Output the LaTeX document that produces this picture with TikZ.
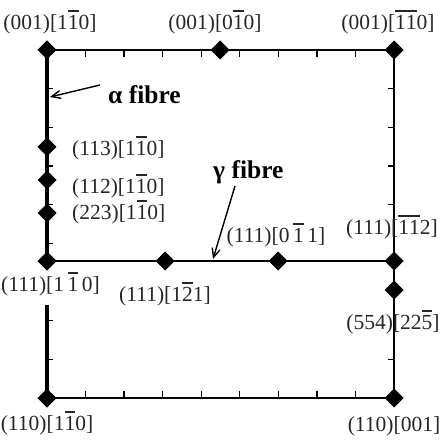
\documentclass[tikz,border=0pt]{standalone}
\usepackage{fontspec}
\setmainfont{Liberation Serif}
\usetikzlibrary{arrows.meta}
\newcommand\ob[1]{{\setbox0\hbox{#1}\rlap{\rule[0.8em]{\wd0}{0.065em}}\box0}}
\begin{document}
\begin{tikzpicture}[x=1bp,y=-1bp,
  dia/.style={inner sep=0pt,minimum size=0pt},
  lab/.style={inner sep=0pt,font=\fontsize{21.5bp}{24bp}\selectfont,text=black!85},
  fib/.style={inner sep=0pt,font=\fontsize{25.5bp}{28bp}\selectfont\bfseries},
  thinax/.style={line width=1.3bp},
  thickax/.style={line width=3.6bp},
  midax/.style={line width=2.1bp},
  tick/.style={line width=1.3bp},
  arr/.style={line width=1.4bp,-{Straight Barb[length=9bp,width=8bp]}}]
\useasboundingbox (0,0) rectangle (444,442);
\coordinate (gapB) at (47,305);
% diamond positions
\node[dia] (tl) at (47,50) {};
\node[dia] (tm) at (220,50) {};
\node[dia] (tr) at (394,50) {};
\node[dia] (d113) at (47,147) {};
\node[dia] (d112) at (47,180) {};
\node[dia] (d223) at (47,213) {};
\node[dia] (ml) at (47,261) {};
\node[dia] (m121) at (165,261) {};
\node[dia] (m011) at (278,261) {};
\node[dia] (mr) at (394,261) {};
\node[dia] (r554) at (394,290) {};
\node[dia] (br) at (394,398) {};
\node[dia] (bl) at (47,398) {};
% lines
\draw[thinax] (tl.center) -- (tr.center);
\draw[thinax] (bl.center) -- (br.center);
\draw[thickax] (tl.center) -- (ml.center);
\draw[thickax] (gapB) -- (bl.center);
\draw[midax] (ml.center) -- (mr.center);
\draw[midax] (tr.center) -- (br.center);
% ticks
\foreach \k in {1,...,8} {
  \draw[tick] (47+\k*38.56,50) -- ++(0,7);
  \draw[tick] (47+\k*38.56,398) -- ++(0,-7);
}
\foreach \k in {1,...,5} {
  \draw[tick] (47,50+\k*38.7) -- ++(6,0);
}
\foreach \k in {1,...,4} {
  \draw[tick] (394,50+\k*38.7) -- ++(-6,0);
}
\draw[tick] (47,398-38.7) -- ++(6,0);
\draw[tick] (47,398-77.4) -- ++(6,0);
\draw[tick] (394,398-38.7) -- ++(-6,0);
% diamond markers
\foreach \n in {tl,tm,tr,d113,d112,d223,ml,m121,m011,mr,r554,br,bl}
  \fill (\n.center) ++(-9.5,0) -- ++(9.5,-9.5) -- ++(9.5,9.5) -- ++(-9.5,9.5) -- cycle;
% labels
\node[lab] (L1) at (50,22) {(001)[1\ob{1}0]};
\node[lab] (L2) at (215,22) {(001)[0\ob{1}0]};
\node[lab] (L3) at (388,22) {(001)[\ob{1}\ob{1}0]};
\node[lab,anchor=west] (L4) at (72,148) {(113)[1\ob{1}0]};
\node[lab,anchor=west] (L5) at (72,186) {(112)[1\ob{1}0]};
\node[lab,anchor=west] (L6) at (72,212) {(223)[1\ob{1}0]};
\node[lab,anchor=west] (L7) at (1,284) {(111)[1\,\ob{1}\,0]};
\node[lab] (L8) at (165,294) {(111)[1\ob{2}1]};
\node[lab] (L9) at (276,235) {(111)[0\,\ob{1}\,1]};
\node[lab] (L10) at (392,227) {(111)[\ob{1}\ob{1}2]};
\node[lab] (L11) at (393,322) {(554)[22\ob{5}]};
\node[lab] (L12) at (47,423) {(110)[1\ob{1}0]};
\node[lab] (L13) at (394,426) {(110)[001]};
% fibre labels
\node[fib,anchor=west] (alpha) at (108,95) {α fibre};
\node[fib,anchor=west] (gamma) at (213,172) {γ fibre};
\coordinate (alphatail) at (100,85);
\coordinate (alphatip) at (50,97);
\coordinate (gammatail) at (235,186);
\coordinate (gammatip) at (213,259);
\draw[arr] (alphatail) -- (alphatip);
\draw[arr] (gammatail) -- (gammatip);
\end{tikzpicture}
\end{document}
